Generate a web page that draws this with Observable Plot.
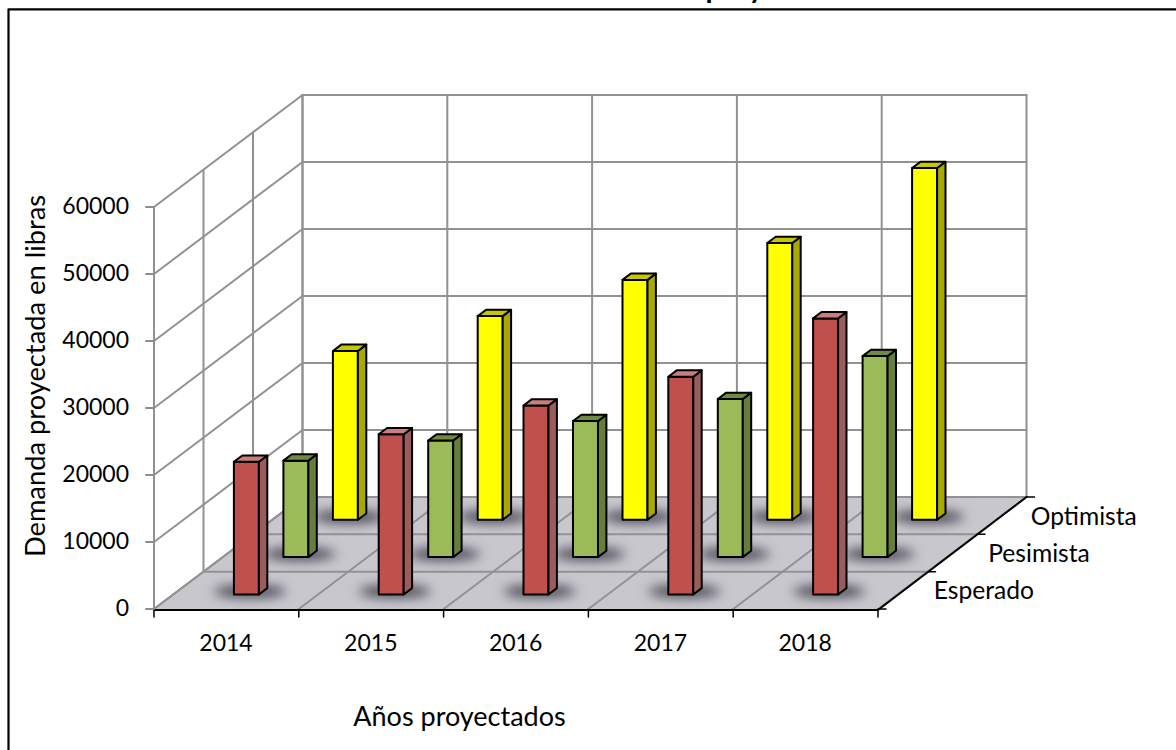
<!DOCTYPE html>
<html>
<head>
<meta charset="utf-8">
<style>
  html, body { margin: 0; padding: 0; background: #fff; }
  svg { display: block; }
</style>
<script src="https://cdn.jsdelivr.net/npm/d3@7"></script>
<script src="https://cdn.jsdelivr.net/npm/@observablehq/plot@0.6"></script>
</head>
<body>
<div id="chart"></div>
<script>
// Projected demand per year and scenario, in pounds.
const years = [2014, 2015, 2016, 2017, 2018];
const scenarios = ["Esperado", "Pesimista", "Optimista"];
const esperado = [19800, 23900, 28200, 32500, 41200];
const pesimista = [14400, 17400, 20300, 23600, 30000];
const optimista = [25200, 30400, 35800, 41300, 52500];
const valueTicks = [0, 10000, 20000, 30000, 40000, 50000, 60000];

const wallTop = d3.max(valueTicks);
const seriesValues = [esperado, pesimista, optimista];
const palette = [
  {front: "#C0504D", side: "#9B5C5C", top: "#CB7F7D"},
  {front: "#9BBB59", side: "#667E3C", top: "#6F8B42"},
  {front: "#FFFF00", side: "#A8A800", top: "#C6C600"}
];

// Oblique projection: u runs along the years, v into the depth, w is the demand.
const origin = {x: 153.5, y: 608.5};
const unitU = 144.8;
const depth = {x: 148.5, y: -112};
const pxPerUnit = 67 / 10000;
const px = (u, v) => origin.x + u * unitU + v * depth.x;
const py = (v, w) => origin.y + v * depth.y - w * pxPerUnit;

const nYears = years.length;
const nDepth = scenarios.length;

// Bar footprint within a year/scenario cell, as fractions.
const barU = [0.4185, 0.591];
const barV = [0.39, 0.56];

const polygon = (id, color, corners) =>
  corners.map(([u, v, w]) => ({id, color, x: px(u, v), y: py(v, w)}));
const segment = (id, a, b) => [a, b].map(([u, v, w]) => ({id, x: px(u, v), y: py(v, w)}));

const floor = polygon("floor", "#C9C7CE", [[0, 0, 0], [nYears, 0, 0], [nYears, 1, 0], [0, 1, 0]]);

// Wall and floor grid segments.
const grid = [];
for (const t of valueTicks) {
  grid.push(...segment(`left-${t}`, [0, 0, t], [0, 1, t]));
  grid.push(...segment(`back-${t}`, [0, 1, t], [nYears, 1, t]));
}
for (let i = 0; i <= nYears; i++) {
  grid.push(...segment(`backv-${i}`, [i, 1, 0], [i, 1, wallTop]));
  grid.push(...segment(`floorx-${i}`, [i, 0, 0], [i, 1, 0]));
}
for (let j = 0; j <= nDepth; j++) {
  const v = j / nDepth;
  grid.push(...segment(`leftv-${j}`, [0, v, 0], [0, v, wallTop]));
  if (j > 0 && j < nDepth) grid.push(...segment(`floory-${j}`, [0, v, 0], [nYears, v, 0]));
}

// Shadows and the three visible faces of every bar, back row first.
const shadows = [];
const faces = [];
for (let s = nDepth - 1; s >= 0; s--) {
  const v0 = (s + barV[0]) / nDepth;
  const v1 = (s + barV[1]) / nDepth;
  years.forEach((year, i) => {
    const u0 = i + barU[0];
    const u1 = i + barU[1];
    const value = seriesValues[s][i];
    const cx = px(u0, v0) + 16;
    const cy = py(v0, 0) - 3;
    d3.range(36).forEach((k) => {
      const a = (k / 36) * 2 * Math.PI;
      shadows.push({id: `${s}-${i}`, x: cx + 36 * Math.cos(a), y: cy + 6.5 * Math.sin(a)});
    });
    const p = palette[s];
    faces.push(...polygon(`f${s}-${i}`, p.front, [[u0, v0, 0], [u1, v0, 0], [u1, v0, value], [u0, v0, value]]));
    faces.push(...polygon(`s${s}-${i}`, p.side, [[u1, v0, 0], [u1, v1, 0], [u1, v1, value], [u1, v0, value]]));
    faces.push(...polygon(`t${s}-${i}`, p.top, [[u0, v0, value], [u1, v0, value], [u1, v1, value], [u0, v1, value]]));
  });
}

// Black axes along the floor edges with their short ticks.
const frontEdge = py(0, 0) + 1;
const axes = [
  {id: "ax", x: px(0, 0), y: frontEdge},
  {id: "ax", x: px(nYears, 0), y: frontEdge},
  {id: "ad", x: px(nYears, 0), y: frontEdge},
  {id: "ad", x: px(nYears, 1), y: py(1, 0)}
];
const tickLines = [];
d3.range(nYears + 1).forEach((i) => {
  tickLines.push({id: `tx${i}`, x: px(i, 0), y: frontEdge}, {id: `tx${i}`, x: px(i, 0), y: frontEdge + 7});
});
d3.range(nDepth + 1).forEach((j) => {
  const v = j / nDepth;
  tickLines.push({id: `td${j}`, x: px(nYears, v), y: py(v, 0)}, {id: `td${j}`, x: px(nYears, v) + 8, y: py(v, 0)});
});
const wallTicks = valueTicks.flatMap((t) => [
  {id: `tw${t}`, x: px(0, 0) - 8, y: py(0, t)},
  {id: `tw${t}`, x: px(0, 0), y: py(0, t)}
]);

// Scenario labels sit a little further out where the word is longer.
const scenarioNudge = [31, 36, 29];

const font = "Lato, 'Open Sans', sans-serif";
const closed = {x: "x", y: "y", z: "id", curve: "linear-closed"};

const chart = Plot.plot({
  width: 1176,
  height: 750,
  margin: 0,
  x: {domain: [0, 1176], range: [0, 1176], axis: null},
  y: {domain: [0, 750], range: [0, 750], axis: null},
  style: {fontFamily: font, background: "#fff"},
  marks: [
    // Outer frame, open on the right and bottom sides.
    Plot.line([{x: 8, y: 750}, {x: 8, y: 8.8}, {x: 1176, y: 8.8}], {x: "x", y: "y", stroke: "#000", strokeWidth: 2.2}),
    // Title, its upper part lying above the frame.
    Plot.text(["proyectada"], {x: () => 705, y: () => -3, text: (d) => d, textAnchor: "start", fontSize: 29, fontWeight: 700, fill: "#000", lineAnchor: "bottom"}),
    Plot.line(floor, {...closed, fill: "color", stroke: "none"}),
    Plot.line(grid, {x: "x", y: "y", z: "id", stroke: "#929292", strokeWidth: 2}),
    Plot.line(shadows, {...closed, fill: "#4A4854", stroke: "none", imageFilter: "blur(6px)"}),
    Plot.line(faces, {...closed, fill: "color", stroke: "#000", strokeWidth: 2, strokeLinejoin: "round"}),
    Plot.line(axes, {x: "x", y: "y", z: "id", stroke: "#000", strokeWidth: 2}),
    Plot.line(tickLines, {x: "x", y: "y", z: "id", stroke: "#000", strokeWidth: 1.5}),
    Plot.line(wallTicks, {x: "x", y: "y", z: "id", stroke: "#8c8c8c", strokeWidth: 2}),
    // Value labels on the left wall.
    Plot.text(valueTicks, {x: () => 128.5, y: (t) => py(0, t), text: (t) => String(t), textAnchor: "end", fontSize: 23, fill: "#000"}),
    // Year labels below the front edge.
    Plot.text(years, {x: (d, i) => px(i, 0) + 72, y: () => 643, text: (d) => String(d), fontSize: 23, fill: "#000"}),
    // Scenario labels beside the depth axis.
    Plot.text(scenarios, {x: (d, i) => px(nYears, (i + 0.5) / nDepth) + scenarioNudge[i], y: (d, i) => py((i + 0.5) / nDepth, 0) + 1, text: (d) => d, textAnchor: "start", fontSize: 24.6, fill: "#000"}),
    // Axis titles.
    Plot.text(["Demanda proyectada en libras"], {x: () => 36, y: () => 375.5, text: (d) => d, rotate: -90, fontSize: 27.3, fill: "#000"}),
    Plot.text(["Años proyectados"], {x: () => 459, y: () => 717, text: (d) => d, fontSize: 27, fill: "#000"})
  ]
});
document.getElementById("chart").appendChild(chart);
</script>
</body>
</html>
